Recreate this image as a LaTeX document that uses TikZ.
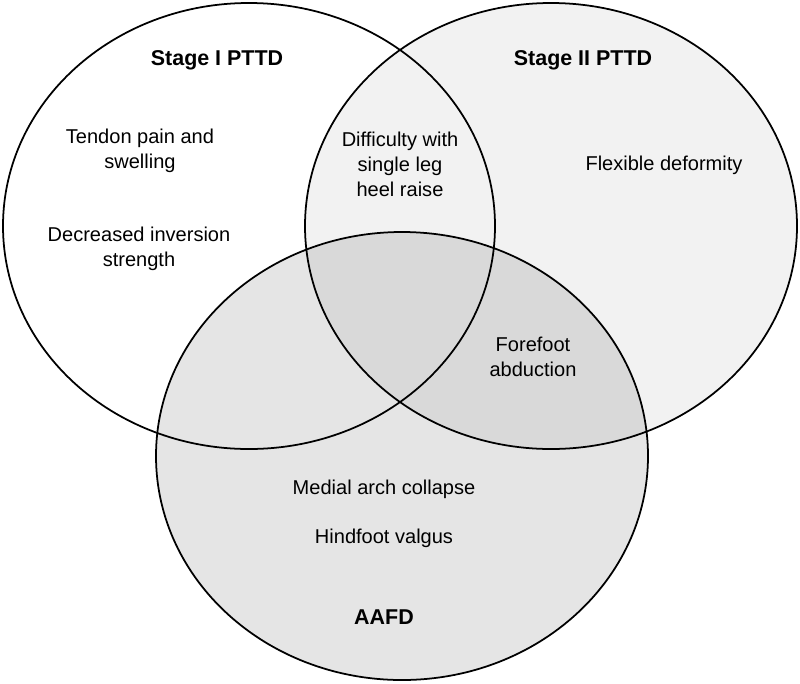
\documentclass[tikz,border=0pt]{standalone}
\usepackage{fontspec}
\setmainfont{Liberation Sans}

\begin{document}
\begin{tikzpicture}[x=0.02cm,y=-0.02cm,
		ring/.style={draw=black,line width=1pt},
		item/.style={align=center,inner sep=0pt,font=\fontsize{11.4}{14.2}\selectfont},
		setname/.style={inner sep=0pt,font=\fontsize{12.2}{14.6}\selectfont\bfseries},
	]
		\useasboundingbox[fill=white] (0,0) rectangle (800,683);

		% shaded sets
		\fill[black,fill opacity=0.05] (551,226) ellipse [x radius=246,y radius=223];
		\fill[black,fill opacity=0.10] (402,456) ellipse [x radius=246,y radius=224];
		% outlines
		\draw[ring] (249,226) ellipse [x radius=246,y radius=223];
		\draw[ring] (551,226) ellipse [x radius=246,y radius=223];
		\draw[ring] (402,456) ellipse [x radius=246,y radius=224];

		\node[setname] (one) at (217,60) {Stage I PTTD};
		\node[setname] (two) at (583,60) {Stage II PTTD};
		\node[setname] (aafd) at (384,617) {AAFD};

		\node[item] (tendon) at (140,151) {Tendon pain and\\swelling};
		\node[item] (inversion) at (139,249) {Decreased inversion\\strength};
		\node[item] (heel) at (400,164) {Difficulty with\\single leg\\heel raise};
		\node[item] (flexible) at (664,165) {Flexible deformity};
		\node[item] (forefoot) at (533,357) {Forefoot\\abduction};
		\node[item] (arch) at (384,489) {Medial arch collapse};
		\node[item] (hindfoot) at (384,538) {Hindfoot valgus};
	\end{tikzpicture}
\end{document}
